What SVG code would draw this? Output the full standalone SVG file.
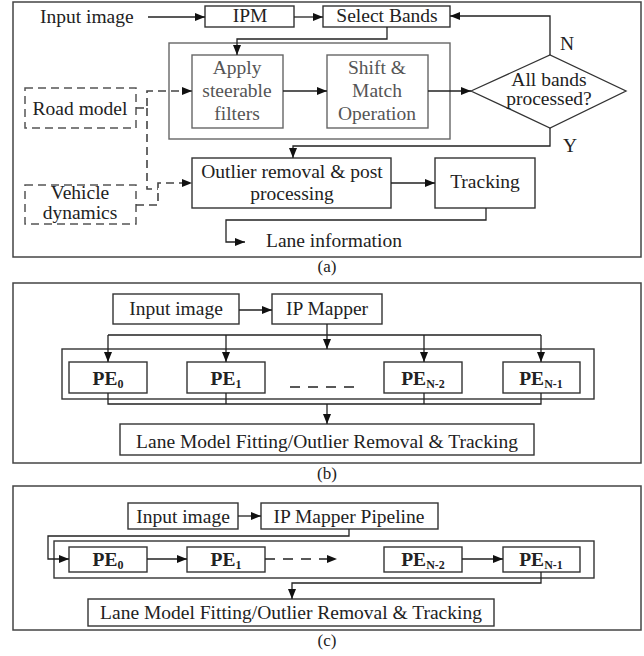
<svg xmlns="http://www.w3.org/2000/svg" width="644" height="656" viewBox="0 0 644 656">
<style>
text{font-family:"Liberation Serif","Times New Roman",serif;font-size:19.5px;fill:#222;text-anchor:middle}
.st{text-anchor:start}
.g{fill:#555}
.pe{font-weight:bold}
.frame{fill:none;stroke:#444;stroke-width:1.5}
.box{fill:#fff;stroke:#333;stroke-width:1.4}
.gbox{fill:none;stroke:#666;stroke-width:1.4}
.dbox{fill:none;stroke:#555;stroke-width:1.5;stroke-dasharray:8 5}
.ln{fill:none;stroke:#222;stroke-width:1.3}
.dl{fill:none;stroke:#444;stroke-width:1.6;stroke-dasharray:8 5}
.cap{font-size:17px}
</style>
<defs>
<marker id="ah" markerUnits="userSpaceOnUse" markerWidth="10" markerHeight="8" refX="10" refY="4" orient="auto">
<path d="M0,0 L10,4 L0,8 z" fill="#111"/>
</marker>
</defs>

<!-- Panel (a) -->
<rect class="frame" x="13" y="2" width="628" height="255"/>
<g id="a-input"><text class="st" x="40" y="23">Input image</text></g>
<g id="a-ipm"><rect class="box" x="205" y="6" width="89" height="21"/><text x="250" y="22">IPM</text></g>
<g id="a-select"><rect class="box" x="323" y="6" width="127" height="21"/><text x="387" y="22">Select Bands</text></g>
<g id="a-container"><rect class="gbox" x="169" y="43" width="281" height="96"/></g>
<g id="a-apply"><rect class="gbox" x="192" y="55" width="91" height="73"/><text class="g" x="237" y="74">Apply</text><text class="g" x="237" y="97">steerable</text><text class="g" x="237" y="120">filters</text></g>
<g id="a-shift"><rect class="gbox" x="327" y="55" width="101" height="73"/><text class="g" x="377" y="74">Shift &amp;</text><text class="g" x="377" y="97">Match</text><text class="g" x="377" y="120">Operation</text></g>
<g id="a-decision"><polygon points="471,91 550,55 626,91 550,128" fill="#fff" stroke="#333" stroke-width="1.3"/><text x="549" y="86">All bands</text><text x="549" y="105">processed?</text></g>
<g id="a-road"><rect class="dbox" x="25" y="88" width="111" height="40"/><text x="80" y="115">Road model</text></g>
<g id="a-vehicle"><rect class="dbox" x="25" y="185" width="111" height="39"/><text x="80" y="199">Vehicle</text><text x="80" y="219">dynamics</text></g>
<g id="a-outlier"><rect class="box" x="192" y="158" width="199" height="50"/><text x="292" y="178">Outlier removal &amp; post</text><text x="292" y="200">processing</text></g>
<g id="a-tracking"><rect class="box" x="435" y="158" width="100" height="50"/><text x="485" y="188">Tracking</text></g>
<g id="a-lane"><text class="st" x="266" y="247">Lane information</text></g>
<g id="a-labels"><text x="567" y="50">N</text><text x="570" y="152">Y</text></g>
<text class="cap" x="327" y="272">(a)</text>

<g id="a-connectors">
<path class="ln" d="M148,17 H205" marker-end="url(#ah)"/>
<path class="ln" d="M294,17 H323" marker-end="url(#ah)"/>
<path class="ln" d="M387,27 V39 H237 V55" marker-end="url(#ah)"/>
<path class="ln" d="M283,91 H327" marker-end="url(#ah)"/>
<path class="ln" d="M428,91 H471" marker-end="url(#ah)"/>
<path class="ln" d="M550,55 V16 H450" marker-end="url(#ah)"/>
<path class="ln" d="M550,128 V146 H293 V158" marker-end="url(#ah)"/>
<path class="ln" d="M391,183 H435" marker-end="url(#ah)"/>
<path class="ln" d="M486,208 V220 H226 V242 H245" marker-end="url(#ah)"/>
<path class="dl" d="M136,108 H147 V91 H192" marker-end="url(#ah)"/>
<path class="dl" d="M147,108 V189 H158"/>
<path class="dl" d="M136,205 H158 V183 H192" marker-end="url(#ah)"/>
</g>

<!-- Panel (b) -->
<rect class="frame" x="13" y="283" width="628" height="180"/>
<g id="b-input"><rect class="box" x="113" y="294" width="126" height="30"/><text x="176" y="315">Input image</text></g>
<g id="b-ipmapper"><rect class="box" x="272" y="294" width="110" height="30"/><text x="327" y="315">IP Mapper</text></g>
<g id="b-container"><rect class="box" x="62" y="349" width="532" height="50" fill="none"/></g>
<g id="b-pe0"><rect class="box" x="69" y="362" width="78" height="31"/><text class="pe" x="108" y="385">PE<tspan font-size="12" dy="3">0</tspan></text></g>
<g id="b-pe1"><rect class="box" x="187" y="362" width="78" height="31"/><text class="pe" x="226" y="385">PE<tspan font-size="12" dy="3">1</tspan></text></g>
<g id="b-pen2"><rect class="box" x="384" y="362" width="78" height="31"/><text class="pe" x="423" y="385">PE<tspan font-size="12" dy="3">N-2</tspan></text></g>
<g id="b-pen1"><rect class="box" x="503" y="362" width="77" height="31"/><text class="pe" x="541" y="385">PE<tspan font-size="12" dy="3">N-1</tspan></text></g>
<g id="b-lane"><rect class="box" x="120" y="424" width="414" height="31"/><text x="327" y="448">Lane Model Fitting/Outlier Removal &amp; Tracking</text></g>
<text class="cap" x="327" y="479">(b)</text>

<g id="b-connectors">
<path class="ln" d="M239,310 H272" marker-end="url(#ah)"/>
<path class="ln" d="M327,324 V335 M108,335 H541"/>
<path class="ln" d="M327,335 V349" marker-end="url(#ah)"/>
<path class="ln" d="M108,335 V362" marker-end="url(#ah)"/>
<path class="ln" d="M226,335 V362" marker-end="url(#ah)"/>
<path class="ln" d="M424,335 V362" marker-end="url(#ah)"/>
<path class="ln" d="M541,335 V362" marker-end="url(#ah)"/>
<path class="ln" d="M108,393 V404 H541 V393 M226,393 V404 M424,393 V404"/>
<path class="ln" d="M327,404 V424" marker-end="url(#ah)"/>
<path d="M290,387 H362" stroke="#222" stroke-width="1.5" stroke-dasharray="10 8" fill="none"/>
</g>

<!-- Panel (c) -->
<rect class="frame" x="13" y="486" width="628" height="144"/>
<g id="c-input"><rect class="box" x="128" y="503" width="110" height="26"/><text x="183" y="523">Input image</text></g>
<g id="c-ipmapper"><rect class="box" x="261" y="503" width="177" height="26"/><text x="349" y="523">IP Mapper Pipeline</text></g>
<g id="c-container"><rect class="box" x="54" y="541" width="540" height="37" fill="none"/></g>
<g id="c-pe0"><rect class="box" x="69" y="547" width="78" height="25"/><text class="pe" x="108" y="566">PE<tspan font-size="12" dy="3">0</tspan></text></g>
<g id="c-pe1"><rect class="box" x="187" y="547" width="78" height="25"/><text class="pe" x="226" y="566">PE<tspan font-size="12" dy="3">1</tspan></text></g>
<g id="c-pen2"><rect class="box" x="384" y="547" width="78" height="25"/><text class="pe" x="423" y="566">PE<tspan font-size="12" dy="3">N-2</tspan></text></g>
<g id="c-pen1"><rect class="box" x="503" y="547" width="77" height="25"/><text class="pe" x="541" y="566">PE<tspan font-size="12" dy="3">N-1</tspan></text></g>
<g id="c-lane"><rect class="box" x="88" y="599" width="406" height="27"/><text x="291" y="619">Lane Model Fitting/Outlier Removal &amp; Tracking</text></g>
<text class="cap" x="327" y="646">(c)</text>

<g id="c-connectors">
<path class="ln" d="M238,516 H261" marker-end="url(#ah)"/>
<path class="ln" d="M349,529 V536 H48 V559 H69" marker-end="url(#ah)"/>
<path class="ln" d="M147,559 H187" marker-end="url(#ah)"/>
<path class="ln" d="M265,559 H337" stroke-dasharray="10 8" marker-end="url(#ah)"/>
<path class="ln" d="M462,559 H503" marker-end="url(#ah)"/>
<path class="ln" d="M541,572 V583 H292 V599" marker-end="url(#ah)"/>
</g>
</svg>
